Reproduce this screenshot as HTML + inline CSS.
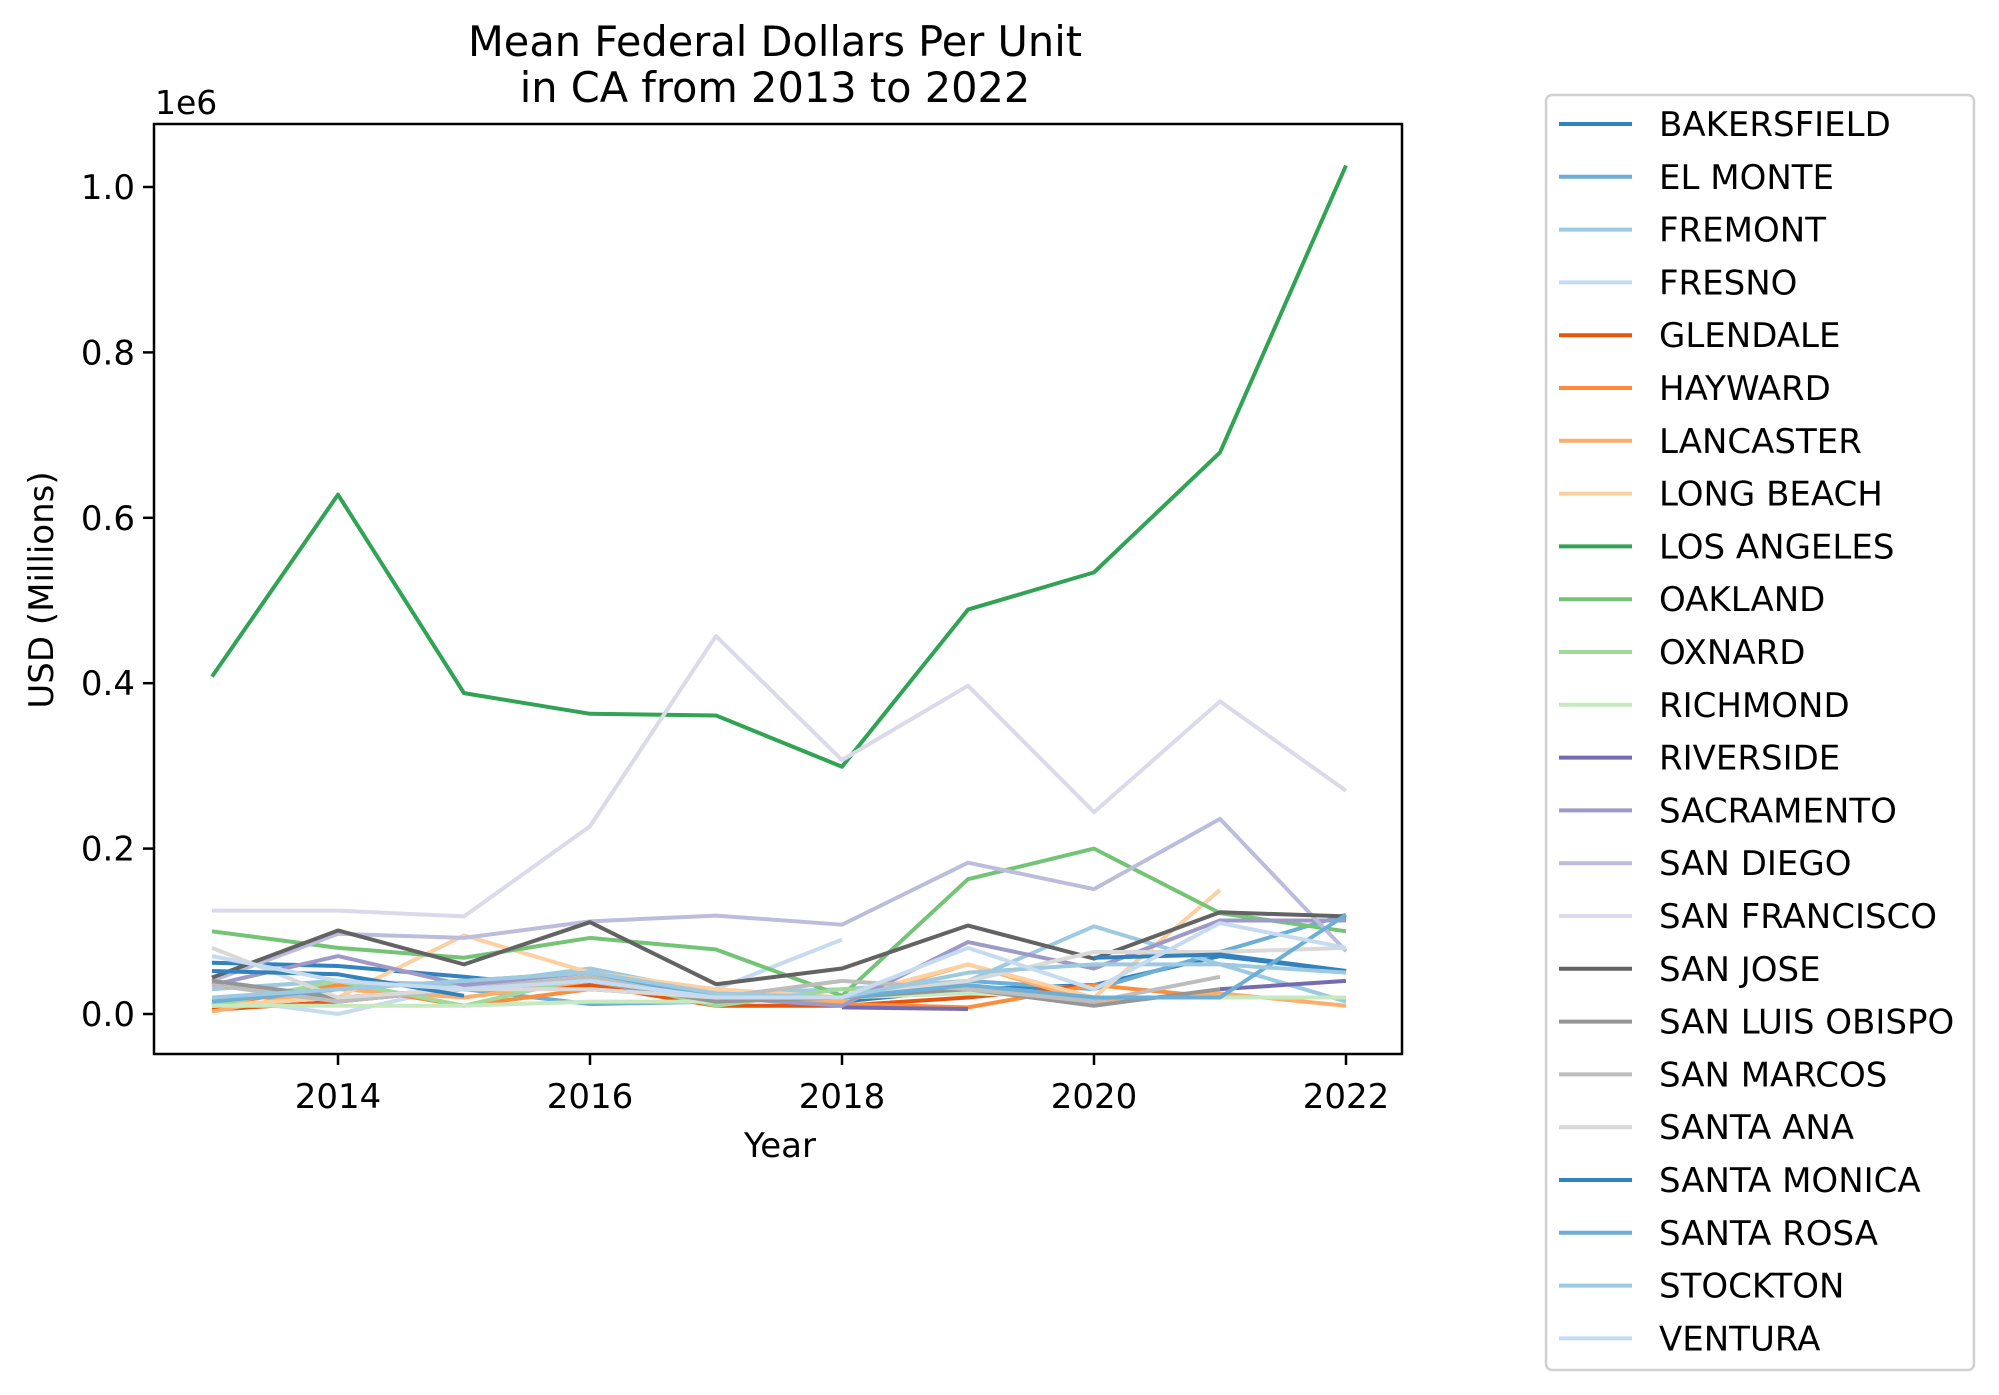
<!DOCTYPE html>
<html><head><meta charset="utf-8"><style>
html,body{margin:0;padding:0;background:#fff;}
svg{display:block;font-family:"DejaVu Sans","Liberation Sans",sans-serif;}
</style></head><body>
<svg id="chart" width="1999" height="1395" viewBox="0 0 1999 1395">
<text x="775" y="56" font-size="41.5" text-anchor="middle">Mean Federal Dollars Per Unit</text>
<text x="775" y="102" font-size="41.5" text-anchor="middle">in CA from 2013 to 2022</text>
<text x="155" y="114" font-size="33">1e6</text>
<text x="780" y="1157" font-size="34" text-anchor="middle">Year</text>
<text transform="translate(53,590) rotate(-90)" font-size="34" text-anchor="middle">USD (Millions)</text>
<g id="plot"></g>
<rect x="154" y="124" width="1248" height="930" fill="none" stroke="#000" stroke-width="2.5"/>
<g id="legend"></g>
</svg>
<script>
const years=[2013,2014,2015,2016,2017,2018,2019,2020,2021,2022];
const cities=["BAKERSFIELD","EL MONTE","FREMONT","FRESNO","GLENDALE","HAYWARD","LANCASTER","LONG BEACH","LOS ANGELES","OAKLAND","OXNARD","RICHMOND","RIVERSIDE","SACRAMENTO","SAN DIEGO","SAN FRANCISCO","SAN JOSE","SAN LUIS OBISPO","SAN MARCOS","SANTA ANA","SANTA MONICA","SANTA ROSA","STOCKTON","VENTURA"];
const colors=["#3182bd","#6baed6","#9ecae1","#c6dbef","#e6550d","#fd8d3c","#fdae6b","#fdd0a2","#31a354","#74c476","#a1d99b","#c7e9c0","#756bb1","#9e9ac8","#bcbddc","#dadaeb","#636363","#969696","#bdbdbd","#d9d9d9","#3182bd","#6baed6","#9ecae1","#c6dbef"];
const bakersfield=[0.062,0.058,0.045,0.030,0.020,0.015,0.030,0.035,0.070,0.052];
const elMonte=[0.020,0.020,0.030,0.012,0.015,0.020,0.040,0.030,0.075,0.120];
const fremont=[0.030,0.040,0.035,0.055,0.025,0.030,0.040,0.106,0.060,0.015];
const fresno=[0.020,0.000,0.035,0.040,0.030,0.090,null,null,null,null];
const glendale=[0.005,0.015,0.030,0.035,0.010,0.010,0.020,0.035,null,null];
const hayward=[0.010,0.035,0.010,0.030,0.020,0.012,0.008,0.035,0.020,0.020];
const lancaster=[0.003,0.030,0.020,0.040,0.025,0.015,0.060,0.015,0.025,0.010];
const longBeach=[0.010,0.020,0.095,0.050,0.030,0.020,0.060,0.020,0.150,null];
const losAngeles=[0.408,0.628,0.388,0.363,0.361,0.299,0.489,0.534,0.679,1.026];
const oakland=[0.100,0.080,0.068,0.092,0.078,0.022,0.163,0.200,0.122,0.100];
const oxnard=[0.010,0.040,0.010,0.045,0.010,0.030,0.030,0.020,0.020,0.020];
const richmond=[0.010,0.010,0.010,0.015,0.015,0.020,0.025,0.020,0.020,0.020];
const riverside=[null,null,null,null,null,0.008,0.006,null,0.030,0.040];
const sacramento=[0.035,0.070,0.035,0.050,0.020,0.010,0.087,0.055,0.113,0.113];
const sanDiego=[0.040,0.097,0.092,0.112,0.119,0.108,0.183,0.151,0.236,0.076];
const sanFrancisco=[0.125,0.125,0.118,0.227,0.457,0.307,0.397,0.244,0.378,0.270];
const sanJose=[0.044,0.101,0.060,0.111,0.036,0.055,0.107,0.067,0.123,0.118];
const sanLuisObispo=[0.040,0.020,0.030,0.040,0.015,0.020,0.030,0.010,0.030,null];
const sanMarcos=[0.035,0.015,0.030,0.045,0.020,0.040,0.030,0.015,0.045,null];
const santaAna=[0.080,0.020,0.030,0.030,0.020,0.020,0.040,0.075,0.075,0.080];
const santaMonica=[0.052,0.048,0.022,null,null,null,null,0.068,0.072,0.052];
const santaRosa=[0.015,0.030,0.040,0.050,0.020,0.020,0.035,0.020,0.020,0.120];
const stockton=[0.020,0.030,0.040,0.050,0.025,0.020,0.050,0.060,0.060,0.050];
const ventura=[0.070,0.040,0.030,0.040,0.020,0.020,0.080,0.030,0.110,0.080];
const series=[bakersfield,elMonte,fremont,fresno,glendale,hayward,lancaster,longBeach,losAngeles,oakland,oxnard,richmond,riverside,sacramento,sanDiego,sanFrancisco,sanJose,sanLuisObispo,sanMarcos,santaAna,santaMonica,santaRosa,stockton,ventura];
const xTicks=[2014,2016,2018,2020,2022];
const yTicks=[0,0.2,0.4,0.6,0.8,1.0];
const yTickLabels=["0.0","0.2","0.4","0.6","0.8","1.0"];

const NS="http://www.w3.org/2000/svg";
const xScale=y=>338+(y-2014)*126;
const yScale=v=>1014-v*827;
const plot=document.getElementById('plot');
const legend=document.getElementById('legend');
function mk(tag,attrs,parent){const e=document.createElementNS(NS,tag);for(const k in attrs)e.setAttribute(k,attrs[k]);parent.appendChild(e);return e;}

xTicks.forEach(t=>{
  const l=mk('line',{x1:xScale(t),x2:xScale(t),y1:1054,y2:1065,stroke:'#000','stroke-width':2.5},plot);
  
  
  const tx=mk('text',{x:xScale(t),y:1108,'font-size':34,'text-anchor':'middle'},plot);
  tx.textContent=t;
  
  
});
yTicks.forEach((t,i)=>{
  const l=mk('line',{x1:143,x2:154,y1:yScale(t),y2:yScale(t),stroke:'#000','stroke-width':2.5},plot);
  
  
  const tx=mk('text',{x:135,y:yScale(t)+12,'font-size':34,'text-anchor':'end'},plot);
  tx.textContent=yTickLabels[i];
  
  
});
series.forEach((s,i)=>{
  let segs=[],cur=[];
  s.forEach((v,j)=>{if(v===null){if(cur.length)segs.push(cur);cur=[];}else cur.push(xScale(years[j])+','+yScale(v));});
  if(cur.length)segs.push(cur);
  segs.forEach(seg=>{
    const p=mk('polyline',{points:seg.join(' '),fill:'none',stroke:colors[i],'stroke-width':4,'stroke-linejoin':'round'},plot);
    
    
  });
});
const lb=mk('rect',{x:1546,y:95,width:428,height:1275,rx:6,fill:'#fff',stroke:'#d0d0d0','stroke-width':2.5},legend);


cities.forEach((c,i)=>{
  const y=124+i*52.8;
  const l=mk('line',{x1:1559,x2:1632,y1:y,y2:y,stroke:colors[i],'stroke-width':4},legend);
  
  
  const t=mk('text',{x:1659,y:y+12,'font-size':34},legend);
  t.textContent=c;
  
  
});
</script>
</body></html>
